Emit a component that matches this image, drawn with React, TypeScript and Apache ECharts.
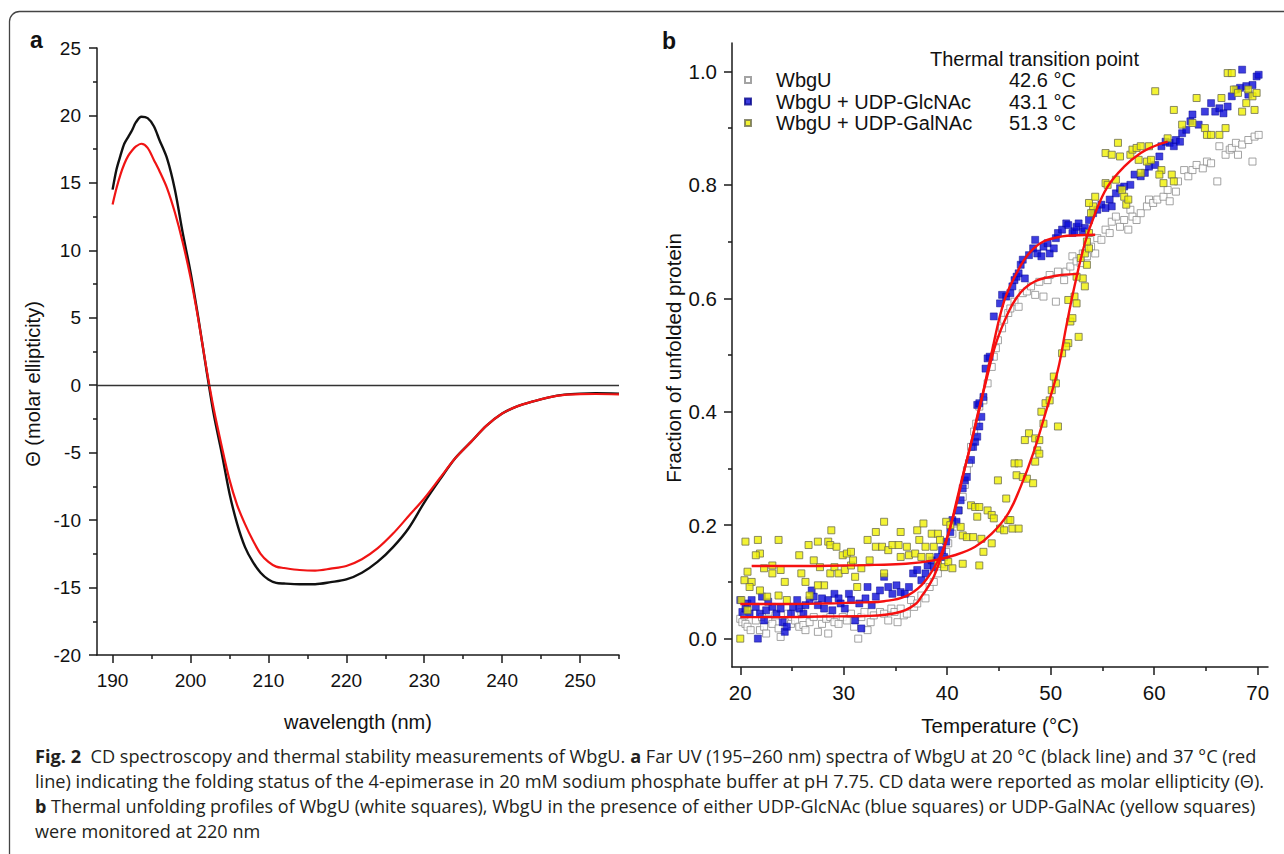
import React, { useEffect, useRef } from 'react';
import * as echarts from 'echarts';

const FONT = '"Liberation Sans", Arial, Helvetica, sans-serif';
const CAPTION_FONT = '"Open Sans", "Noto Sans", sans-serif';

// ---------- Panel a: CD spectra ----------
const wavelengthNm = [190, 190.5, 191, 191.5, 192, 192.5, 193, 193.7, 194.5, 195.3, 196, 197, 198, 199, 200, 201, 202, 203, 204, 205, 206, 207, 208, 209, 210, 211, 212, 214, 216, 218, 220, 222, 224, 226, 228, 230, 232, 234, 236, 238, 240, 242, 244, 246, 248, 250, 252, 255];
const ellipticity20C = [14.5, 16.0, 17.0, 17.9, 18.4, 18.9, 19.5, 19.9, 19.8, 19.2, 18.2, 16.8, 14.5, 11.3, 8.4, 5.0, 1.3, -2.2, -5.0, -8.0, -10.3, -12.0, -13.1, -13.9, -14.4, -14.65, -14.7, -14.75, -14.75, -14.6, -14.4, -13.9, -13.1, -12.0, -10.6, -8.7, -7.0, -5.4, -4.2, -3.0, -2.1, -1.55, -1.2, -0.9, -0.7, -0.62, -0.6, -0.62];
const ellipticity37C = [13.4, 14.6, 15.6, 16.4, 17.0, 17.4, 17.7, 17.9, 17.6, 16.7, 15.9, 14.6, 12.8, 10.6, 8.0, 4.9, 1.4, -1.8, -4.5, -7.0, -8.9, -10.3, -11.5, -12.5, -13.1, -13.45, -13.55, -13.7, -13.75, -13.6, -13.4, -12.9, -12.1, -11.0, -9.7, -8.4, -6.9, -5.4, -4.2, -3.0, -2.1, -1.55, -1.2, -0.9, -0.72, -0.66, -0.65, -0.68];
const wavelengthMajorTicks = [190, 200, 210, 220, 230, 240, 250];
const wavelengthMinorTicks = [195, 205, 215, 225, 235, 245, 255];

// ---------- Panel b: thermal unfolding ----------
const seriesNames = ['WbgU', 'WbgU + UDP-GlcNAc', 'WbgU + UDP-GalNAc'];
const transitionPoints = ['42.6 °C', '43.1 °C', '51.3 °C'];
const temperatureMajorTicks = [20, 30, 40, 50, 60, 70];
const temperatureMinorTicks = [25, 35, 45, 55, 65];
const fractionMajorTicks = [0, 0.2, 0.4, 0.6, 0.8, 1.0];
const fractionMinorTicks = [0.1, 0.3, 0.5, 0.7, 0.9];

const wbguPoints = [[20.0,0.035],[20.2,0.029],[20.4,0.041],[20.5,0.026],[20.7,0.021],[21.0,0.015],[21.3,0.044],[21.5,0.032],[21.9,0.015],[22.1,0.038],[22.3,0.021],[22.5,0.009],[22.7,0.035],[23.1,0.026],[23.4,0.041],[23.7,0.018],[23.9,0.003],[24.3,0.029],[24.6,0.044],[24.9,0.026],[25.3,0.032],[25.7,0.021],[25.9,0.047],[26.1,0.024],[26.3,0.015],[26.7,0.029],[27.1,0.038],[27.5,0.012],[27.9,0.026],[28.3,0.035],[28.5,0.009],[28.7,0.038],[29.1,0.029],[29.5,0.026],[29.9,0.038],[30.3,0.032],[30.7,0.044],[31.0,0.021],[31.4,0.0],[31.7,0.038],[32.0,0.047],[32.3,0.015],[32.6,0.029],[32.9,0.041],[33.5,0.047],[33.9,0.044],[34.3,0.032],[34.6,0.053],[34.9,0.047],[35.2,0.029],[35.5,0.053],[35.8,0.041],[36.1,0.044],[36.5,0.068],[36.8,0.056],[37.1,0.062],[37.5,0.076],[37.9,0.071],[38.3,0.091],[38.7,0.1],[39.1,0.115],[39.5,0.132],[39.9,0.153],[40.1,0.168],[40.5,0.185],[40.7,0.203],[41.1,0.226],[41.5,0.25],[41.7,0.271],[41.9,0.297],[42.1,0.309],[42.3,0.338],[42.6,0.365],[42.8,0.379],[43.1,0.409],[43.5,0.42],[43.9,0.45],[44.3,0.479],[44.5,0.497],[44.7,0.512],[44.9,0.526],[45.3,0.547],[45.5,0.562],[45.9,0.574],[46.1,0.582],[46.5,0.594],[46.9,0.585],[47.3,0.609],[47.7,0.612],[48.1,0.621],[48.5,0.606],[48.9,0.629],[49.3,0.603],[49.7,0.632],[49.9,0.641],[50.5,0.594],[50.7,0.647],[51.3,0.632],[51.5,0.647],[51.9,0.656],[52.1,0.674],[52.5,0.665],[52.9,0.662],[53.1,0.679],[53.5,0.674],[53.9,0.691],[54.3,0.679],[54.5,0.706],[54.9,0.703],[55.3,0.721],[55.7,0.715],[55.9,0.735],[56.3,0.744],[56.7,0.726],[57.1,0.738],[57.5,0.721],[57.7,0.756],[57.9,0.744],[58.3,0.738],[58.7,0.75],[59.3,0.762],[59.5,0.774],[59.9,0.768],[60.3,0.774],[60.9,0.779],[61.3,0.791],[61.5,0.771],[62.1,0.788],[62.3,0.806],[62.9,0.826],[63.3,0.815],[63.7,0.826],[64.1,0.835],[64.7,0.829],[65.1,0.841],[65.5,0.838],[66.1,0.806],[66.3,0.868],[66.9,0.853],[67.3,0.862],[67.5,0.865],[67.9,0.874],[68.1,0.853],[68.5,0.871],[69.1,0.879],[69.5,0.841],[69.7,0.885],[70.1,0.888]];

const glcnacPoints = [[20.0,0.068],[20.2,0.047],[20.5,0.053],[20.7,0.062],[20.9,0.044],[21.1,0.068],[21.5,0.056],[21.7,0.0],[21.9,0.044],[22.1,0.074],[22.3,0.032],[22.5,0.05],[22.7,0.065],[23.1,0.056],[23.5,0.044],[23.9,0.053],[24.1,0.029],[24.3,0.012],[24.5,0.021],[24.9,0.044],[25.1,0.056],[25.5,0.068],[25.7,0.053],[26.1,0.044],[26.3,0.059],[26.7,0.068],[26.9,0.085],[27.1,0.074],[27.5,0.059],[27.9,0.071],[28.1,0.053],[28.5,0.068],[28.9,0.05],[29.1,0.079],[29.5,0.071],[29.7,0.062],[30.1,0.053],[30.5,0.079],[30.7,0.068],[31.1,0.032],[31.5,0.062],[31.7,0.018],[32.1,0.071],[32.3,0.091],[32.7,0.059],[33.1,0.074],[33.5,0.085],[33.9,0.109],[34.3,0.091],[34.7,0.079],[35.1,0.094],[35.5,0.082],[35.9,0.079],[36.3,0.091],[36.7,0.115],[37.1,0.121],[37.5,0.103],[37.9,0.115],[38.1,0.129],[38.5,0.138],[38.7,0.126],[39.1,0.144],[39.5,0.156],[39.7,0.144],[39.9,0.171],[40.3,0.188],[40.5,0.209],[40.9,0.206],[41.1,0.226],[41.3,0.244],[41.5,0.265],[41.7,0.279],[41.9,0.285],[42.3,0.315],[42.5,0.338],[42.7,0.347],[42.9,0.356],[43.1,0.374],[43.3,0.391],[42.9,0.412],[43.1,0.415],[43.5,0.426],[43.7,0.476],[43.9,0.494],[44.1,0.497],[44.5,0.568],[45.1,0.591],[45.3,0.606],[45.7,0.603],[46.1,0.609],[46.3,0.621],[46.5,0.632],[46.7,0.638],[46.9,0.644],[47.1,0.659],[47.3,0.668],[47.5,0.635],[47.9,0.676],[48.3,0.688],[48.5,0.703],[48.7,0.679],[49.1,0.674],[49.3,0.691],[49.7,0.697],[49.9,0.679],[50.3,0.688],[50.5,0.706],[50.7,0.715],[51.1,0.721],[51.5,0.732],[51.7,0.729],[52.1,0.715],[52.3,0.718],[52.5,0.726],[52.7,0.732],[53.1,0.718],[53.3,0.724],[53.7,0.738],[54.1,0.75],[54.5,0.756],[54.9,0.765],[55.3,0.759],[55.7,0.774],[55.9,0.762],[56.3,0.785],[56.7,0.794],[57.1,0.797],[57.7,0.8],[58.1,0.818],[58.7,0.815],[59.1,0.821],[59.5,0.832],[60.1,0.835],[60.5,0.85],[60.7,0.868],[61.1,0.876],[61.5,0.874],[61.9,0.868],[62.1,0.879],[62.5,0.876],[62.7,0.891],[63.1,0.897],[63.5,0.912],[63.7,0.924],[64.3,0.906],[64.9,0.929],[65.5,0.944],[65.9,0.929],[66.3,0.935],[66.7,0.926],[67.1,0.938],[67.5,0.956],[67.9,0.968],[68.3,0.971],[68.5,1.003],[68.9,0.974],[69.1,0.959],[69.5,0.976],[69.9,0.991],[70.1,0.994]];

const galnacPoints = [[20.0,0.0],[20.5,0.171],[21.7,0.174],[21.9,0.15],[21.5,0.147],[20.7,0.118],[20.4,0.103],[21.1,0.1],[20.9,0.091],[20.1,0.068],[20.7,0.05],[22.3,0.124],[23.1,0.129],[23.7,0.174],[23.1,0.115],[23.9,0.121],[24.3,0.1],[21.9,0.085],[22.6,0.074],[23.7,0.076],[24.5,0.068],[25.7,0.147],[25.9,0.115],[26.3,0.1],[26.7,0.076],[26.6,0.165],[27.5,0.171],[27.1,0.138],[27.7,0.126],[28.5,0.171],[28.7,0.165],[28.8,0.191],[28.1,0.094],[28.7,0.115],[27.5,0.094],[29.3,0.162],[29.1,0.126],[29.5,0.115],[29.9,0.147],[30.3,0.15],[30.7,0.153],[30.1,0.121],[30.7,0.129],[31.1,0.109],[31.3,0.091],[30.9,0.138],[31.7,0.124],[32.5,0.138],[33.1,0.162],[32.3,0.174],[33.9,0.206],[33.1,0.188],[33.7,0.162],[34.3,0.156],[33.9,0.115],[34.7,0.165],[35.3,0.165],[35.5,0.144],[36.1,0.162],[36.3,0.147],[35.5,0.188],[37.1,0.191],[37.7,0.203],[37.3,0.174],[36.9,0.15],[37.5,0.144],[37.9,0.162],[38.5,0.185],[38.7,0.162],[39.1,0.185],[39.3,0.174],[38.3,0.144],[39.1,0.132],[39.7,0.126],[40.1,0.135],[40.5,0.124],[39.9,0.206],[40.3,0.2],[41.3,0.197],[41.5,0.182],[41.5,0.132],[42.3,0.235],[41.9,0.179],[42.7,0.232],[43.1,0.232],[42.5,0.179],[42.9,0.215],[43.3,0.176],[43.5,0.153],[43.1,0.129],[43.9,0.226],[44.3,0.218],[44.5,0.212],[44.9,0.279],[45.1,0.194],[44.3,0.168],[45.7,0.247],[45.9,0.209],[46.1,0.209],[45.5,0.191],[46.3,0.194],[46.9,0.194],[46.5,0.309],[46.9,0.309],[46.7,0.288],[47.3,0.285],[47.7,0.282],[47.9,0.362],[47.5,0.35],[48.3,0.274],[48.5,0.353],[48.7,0.332],[48.9,0.326],[48.5,0.312],[48.9,0.35],[49.1,0.4],[49.5,0.415],[49.3,0.379],[50.7,0.374],[49.9,0.42],[50.1,0.438],[50.5,0.45],[50.3,0.462],[51.1,0.503],[51.7,0.521],[51.5,0.515],[52.7,0.532],[51.9,0.559],[52.1,0.565],[51.7,0.597],[52.3,0.603],[52.5,0.591],[53.3,0.621],[53.1,0.635],[52.5,0.638],[53.5,0.659],[52.9,0.671],[53.3,0.679],[53.7,0.688],[53.5,0.7],[53.7,0.715],[54.1,0.762],[53.9,0.75],[53.7,0.768],[54.3,0.779],[55.3,0.803],[55.5,0.8],[56.3,0.809],[56.9,0.791],[57.1,0.779],[57.3,0.765],[57.5,0.774],[56.5,0.874],[55.3,0.856],[55.9,0.853],[56.7,0.85],[57.7,0.853],[57.9,0.862],[58.3,0.865],[58.7,0.868],[59.5,0.868],[59.3,0.841],[58.5,0.844],[59.7,0.844],[58.7,0.821],[60.7,0.826],[60.5,0.818],[61.7,0.818],[61.9,0.806],[60.9,0.803],[60.1,0.965],[61.9,0.932],[64.1,0.953],[61.3,0.882],[62.7,0.906],[63.7,0.909],[64.9,0.9],[65.1,0.888],[65.5,0.888],[66.3,0.888],[66.9,0.9],[66.5,0.953],[67.1,0.997],[67.5,0.997],[67.7,0.968],[68.1,0.962],[68.5,0.929],[68.9,0.944],[69.1,0.968],[69.5,0.956],[69.7,0.932],[69.9,0.962]];

const fitWbgu = [[20,0.038],[24,0.038],[28,0.039],[32,0.040],[34,0.042],[35.9,0.05],[37,0.062],[37.5,0.074],[38.1,0.09],[38.7,0.109],[39.5,0.148],[40.3,0.197],[41,0.25],[41.5,0.287],[42.3,0.344],[43,0.40],[43.7,0.45],[44.7,0.52],[45.9,0.575],[46.7,0.601],[47.5,0.618],[48.5,0.63],[49.5,0.636],[51,0.641],[52.7,0.643]];
const fitGlcnac = [[20,0.061],[24,0.061],[28,0.062],[32,0.064],[33.9,0.066],[35.9,0.074],[37.5,0.094],[38.7,0.124],[39.5,0.153],[40.3,0.197],[41,0.245],[41.5,0.285],[42.1,0.33],[42.7,0.374],[43.3,0.42],[44.3,0.505],[45.5,0.595],[46.7,0.644],[47.9,0.679],[49.3,0.700],[51.1,0.709],[52.7,0.711],[54.3,0.712]];
const fitGalnac = [[21.1,0.128],[25,0.128],[30,0.129],[33,0.13],[36,0.132],[38.7,0.138],[40.7,0.147],[42.7,0.162],[44.3,0.185],[45.9,0.221],[47.1,0.268],[48.3,0.326],[49.5,0.398],[50.7,0.474],[51.5,0.55],[52.3,0.621],[53.3,0.697],[54.3,0.75],[55.5,0.797],[57.1,0.832],[58.7,0.856],[60,0.868],[61.3,0.876]];

// ---------- Caption ----------
const captionLines = [
  [{ t: 'Fig. 2', b: true }, { t: '  CD spectroscopy and thermal stability measurements of WbgU. ', b: false }, { t: 'a', b: true }, { t: ' Far UV (195–260 nm) spectra of WbgU at 20 °C (black line) and 37 °C (red', b: false }],
  [{ t: 'line) indicating the folding status of the 4-epimerase in 20 mM sodium phosphate buffer at pH 7.75. CD data were reported as molar ellipticity (Θ).', b: false }],
  [{ t: 'b', b: true }, { t: ' Thermal unfolding profiles of WbgU (white squares), WbgU in the presence of either UDP-GlcNAc (blue squares) or UDP-GalNAc (yellow squares)', b: false }],
  [{ t: 'were monitored at 220 nm', b: false }],
];
const captionWidths = [1221, 1229, 1221, 0];

export default function App() {
  const ref = useRef<HTMLDivElement>(null);
  useEffect(() => {
    if (!ref.current) return;
    const chart = echarts.init(ref.current, null, { renderer: 'svg' });

    const capSize = 18;
    const canvas = document.createElement('canvas');
    const ctx = canvas.getContext('2d')!;
    const measure = (segs: any[]) => segs.reduce((w, s) => {
      ctx.font = `${s.b ? 'bold ' : ''}${capSize}px ${CAPTION_FONT}`;
      return w + ctx.measureText(s.t).width;
    }, 0);
    const scales = captionLines.map((segs, i) => captionWidths[i] ? captionWidths[i] / measure(segs) : 0);
    const avgScale = (scales[0] + scales[1] + scales[2]) / 3;
    const captionGraphics = captionLines.map((segs, i) => ({
      type: 'text', x: 35, y: 756 + i * 25, scaleX: scales[i] || avgScale,
      style: {
        text: segs.map((s) => `{${s.b ? 'b' : 'r'}|${s.t}}`).join(''),
        rich: {
          b: { fontFamily: CAPTION_FONT, fontSize: capSize, fontWeight: 'bold', fill: '#231f20' },
          r: { fontFamily: CAPTION_FONT, fontSize: capSize, fill: '#231f20' },
        },
        verticalAlign: 'middle', align: 'left',
      },
    }));

    const axisLine = { show: true, onZero: false, lineStyle: { color: '#1a1a1a', width: 1.5 } };
    const tickStyle = { color: '#1a1a1a', width: 1.5 };
    const labelA = { color: '#111', fontSize: 19, fontFamily: FONT };
    const labelB = { color: '#111', fontSize: 20.5, fontFamily: FONT };

    const option: any = {
      animation: false,
      backgroundColor: '#fff',
      grid: [
        { left: 97, top: 48, width: 522, height: 607 },
        { left: 732, top: 43, width: 536, height: 624 },
      ],
      xAxis: [
        {
          gridIndex: 0, type: 'value', position: 'bottom', min: 188, max: 255,
          axisLine, splitLine: { show: false },
          axisTick: { show: true, inside: false, length: 8, lineStyle: tickStyle, customValues: wavelengthMajorTicks },
          axisLabel: { ...labelA, margin: 16, customValues: wavelengthMajorTicks },
          name: 'wavelength (nm)', nameLocation: 'middle', nameGap: 67,
          nameTextStyle: { fontSize: 20, fontFamily: FONT, color: '#111', verticalAlign: 'middle' },
        },
        {
          gridIndex: 0, type: 'value', position: 'bottom', min: 188, max: 255,
          axisLine: { show: false, onZero: false }, splitLine: { show: false },
          axisTick: { show: true, length: 4, lineStyle: tickStyle, customValues: wavelengthMinorTicks },
          axisLabel: { show: false },
        },
        {
          gridIndex: 1, type: 'value', position: 'bottom', min: 19.2, max: 71,
          axisLine, splitLine: { show: false },
          axisTick: { show: true, length: 8, lineStyle: tickStyle, customValues: temperatureMajorTicks },
          axisLabel: { ...labelB, margin: 15, customValues: temperatureMajorTicks },
          name: 'Temperature (°C)', nameLocation: 'middle', nameGap: 58,
          nameTextStyle: { fontSize: 20.5, fontFamily: FONT, color: '#111', verticalAlign: 'middle' },
        },
        {
          gridIndex: 1, type: 'value', position: 'bottom', min: 19.2, max: 71,
          axisLine: { show: false, onZero: false }, splitLine: { show: false },
          axisTick: { show: true, length: 4, lineStyle: tickStyle, customValues: temperatureMinorTicks },
          axisLabel: { show: false },
        },
      ],
      yAxis: [
        {
          gridIndex: 0, type: 'value', position: 'left', min: -20, max: 25, interval: 5,
          axisLine, splitLine: { show: false },
          axisTick: { show: true, length: 8, lineStyle: tickStyle },
          minorTick: { show: true, splitNumber: 2, length: 4, lineStyle: tickStyle },
          minorSplitLine: { show: false },
          axisLabel: { ...labelA, margin: 16 },
        },
        {
          gridIndex: 1, type: 'value', position: 'left', min: -0.05, max: 1.05,
          axisLine, splitLine: { show: false },
          axisTick: { show: true, length: 8, lineStyle: tickStyle, customValues: fractionMajorTicks },
          axisLabel: { ...labelB, margin: 15, customValues: fractionMajorTicks, formatter: (v: number) => v.toFixed(1) },
        },
        {
          gridIndex: 1, type: 'value', position: 'left', min: -0.05, max: 1.05,
          axisLine: { show: false, onZero: false }, splitLine: { show: false },
          axisTick: { show: true, length: 4, lineStyle: tickStyle, customValues: fractionMinorTicks },
          axisLabel: { show: false },
        },
      ],
      legend: {
        data: seriesNames,
        orient: 'vertical', left: 744, top: 70, padding: 0,
        itemWidth: 6, itemHeight: 6, itemGap: 1.5, icon: 'rect',
        selectedMode: false,
        formatter: (name: string) => `{pad|}{n|${name}}{v|${transitionPoints[seriesNames.indexOf(name)]}}`,
        textStyle: {
          rich: {
            pad: { width: 20 },
            n: { width: 233, fontSize: 20, fontFamily: FONT, color: '#111', lineHeight: 24 },
            v: { fontSize: 20, fontFamily: FONT, color: '#111', lineHeight: 24 },
          },
        },
      },
      graphic: [
        { type: 'rect', shape: { x: 9.5, y: 11.5, width: 1320, height: 880, r: 10 }, style: { fill: 'none', stroke: '#444', lineWidth: 1.3 }, silent: true },
        { type: 'text', x: 30, y: 40, style: { text: 'a', font: `bold 23px ${FONT}`, fill: '#111', verticalAlign: 'middle' } },
        { type: 'text', x: 662, y: 41, style: { text: 'b', font: `bold 23px ${FONT}`, fill: '#111', verticalAlign: 'middle' } },
        { type: 'text', x: 33, y: 384, rotation: Math.PI / 2, style: { text: 'Θ (molar ellipticity)', font: `20px ${FONT}`, fill: '#111', align: 'center', verticalAlign: 'middle' } },
        { type: 'text', x: 673, y: 358, rotation: Math.PI / 2, style: { text: 'Fraction of unfolded protein', font: `20.5px ${FONT}`, fill: '#111', align: 'center', verticalAlign: 'middle' } },
        { type: 'text', x: 930, y: 59, style: { text: 'Thermal transition point', font: `20px ${FONT}`, fill: '#111', align: 'left', verticalAlign: 'middle' } },
        ...captionGraphics,
      ],
      series: [
        {
          type: 'line', name: '20 °C', xAxisIndex: 0, yAxisIndex: 0,
          data: wavelengthNm.map((x, i) => [x, ellipticity20C[i]]),
          symbol: 'none', smooth: 0.3, lineStyle: { color: '#111', width: 2.4 }, z: 3,
          markLine: {
            silent: true, symbol: ['none', 'none'], label: { show: false },
            lineStyle: { color: '#333', width: 1.3, type: 'solid' },
            data: [{ yAxis: 0 }],
          },
        },
        {
          type: 'line', name: '37 °C', xAxisIndex: 0, yAxisIndex: 0,
          data: wavelengthNm.map((x, i) => [x, ellipticity37C[i]]),
          symbol: 'none', smooth: 0.3, lineStyle: { color: '#f01414', width: 2.2 }, z: 4,
        },
        {
          type: 'scatter', name: seriesNames[0], xAxisIndex: 2, yAxisIndex: 1, data: wbguPoints,
          symbol: 'rect', symbolSize: 7, itemStyle: { color: '#ffffff', borderColor: '#8c8c8c', borderWidth: 1 }, z: 2,
        },
        {
          type: 'scatter', name: seriesNames[1], xAxisIndex: 2, yAxisIndex: 1, data: glcnacPoints,
          symbol: 'rect', symbolSize: 7, itemStyle: { color: '#0d0dd8', borderColor: '#08088c', borderWidth: 0.6 }, z: 3,
        },
        {
          type: 'scatter', name: seriesNames[2], xAxisIndex: 2, yAxisIndex: 1, data: galnacPoints,
          symbol: 'rect', symbolSize: 7, itemStyle: { color: '#f0f000', borderColor: '#6e6e50', borderWidth: 1 }, z: 4,
        },
        { type: 'line', name: 'fit WbgU', xAxisIndex: 2, yAxisIndex: 1, data: fitWbgu, symbol: 'none', smooth: 0.4, lineStyle: { color: '#f51010', width: 2.4 }, z: 6 },
        { type: 'line', name: 'fit UDP-GlcNAc', xAxisIndex: 2, yAxisIndex: 1, data: fitGlcnac, symbol: 'none', smooth: 0.4, lineStyle: { color: '#f51010', width: 2.4 }, z: 6 },
        { type: 'line', name: 'fit UDP-GalNAc', xAxisIndex: 2, yAxisIndex: 1, data: fitGalnac, symbol: 'none', smooth: 0.4, lineStyle: { color: '#f51010', width: 2.4 }, z: 6 },
      ],
    };
    chart.setOption(option);
    return () => chart.dispose();
  }, []);
  return <div ref={ref} style={{ position: 'fixed', left: 0, top: 0, width: 1284, height: 854, background: '#fff' }} />;
}
